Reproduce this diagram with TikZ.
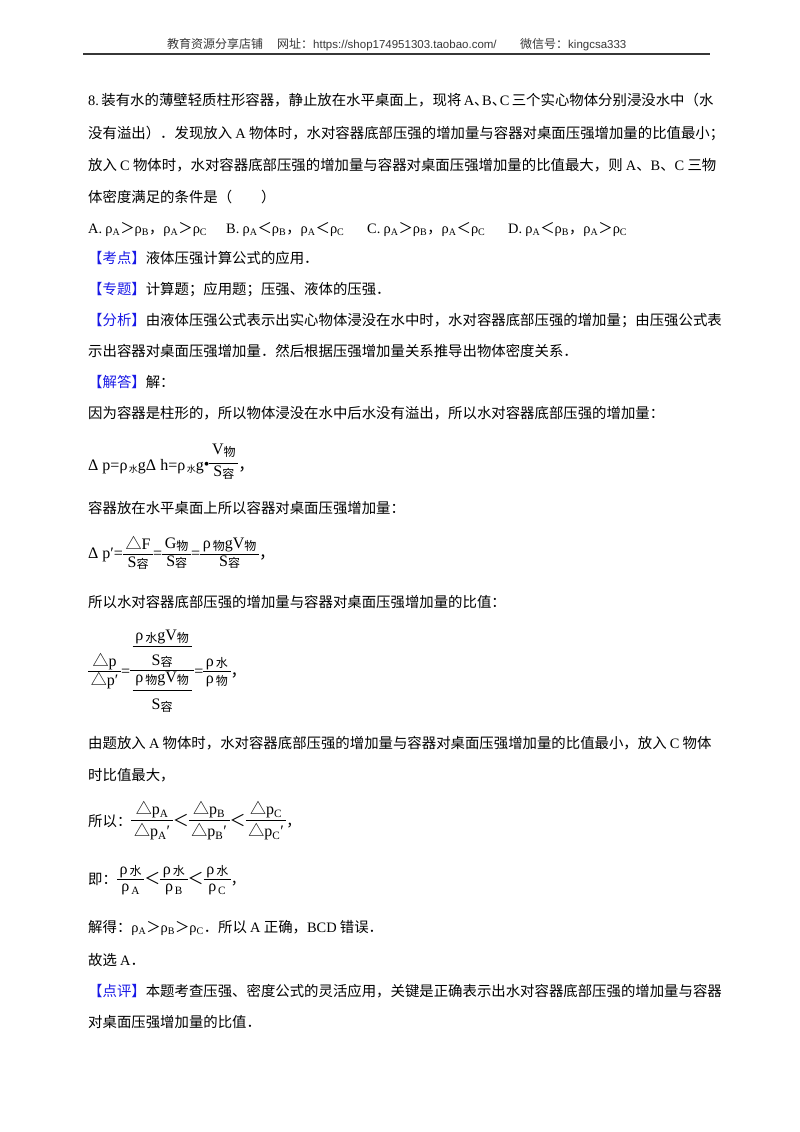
\documentclass[tikz,border=0pt]{standalone}
\usepackage{fontspec}
\setmainfont{Noto Sans CJK SC}
\newfontfamily\cjk{Noto Sans CJK SC}
\newfontfamily\lat{Liberation Serif}
\newfontfamily\hsans{Liberation Sans}
\usepackage{xcolor}
\definecolor{hdr}{RGB}{55,55,55}
\definecolor{tagblue}{RGB}{25,25,230}
\setlength\arrayrulewidth{0.8pt}
\newcommand\tm[1]{{\lat #1}}
\newcommand\rsub[1]{{\lat ρ\textsubscript{#1}}}
\newcommand\csub[2][12]{\raisebox{-1.5pt}{\fontsize{#1}{#1}\selectfont\cjk #2}}
\newcommand\fr[2]{\begin{tabular}[c]{@{\,}c@{\,}}#1\\\hline #2\end{tabular}}
\newcommand\frq[4]{\begin{tabular}[c]{@{\,}c@{\,}}\raisebox{0pt}[\height][\dimexpr\depth+#3\relax]{#1}\\\hline\raisebox{0pt}[\dimexpr\height+#4\relax][\depth]{#2}\end{tabular}}
\newcommand\hcomma{\hbox to 8pt{、\hss}}
\newcommand\tagb[1]{\textcolor{tagblue}{【#1】}}
\begin{document}
\begin{tikzpicture}[x=1pt,y=-1pt,
  txt/.style={anchor=base west,inner sep=0pt,font=\fontsize{14.4}{17.28}\selectfont},
  fm/.style={anchor=base west,inner sep=0pt,font=\fontsize{16}{17}\selectfont},
  hd/.style={anchor=base west,inner sep=0pt,font=\fontsize{12}{14}\selectfont,text=hdr},
  rulestyle/.style={draw=hdr,line width=1.3pt}]
\path[use as bounding box, fill=white] (0,0) rectangle (800,1132);
% header
\node[hd] (h1) at (167,48.5) {教育资源分享店铺};
\node[hd] (h2) at (277,48.5) {网址：{\hsans\fontsize{11.5}{14}\selectfont https://shop174951303.taobao.com/}};
\node[hd] (h3) at (520,48.5) {微信号：{\hsans\fontsize{11.5}{14}\selectfont kingcsa333}};
\coordinate (r1) at (83,54);
\coordinate (r2) at (710,54);
\draw[rulestyle] (r1) -- (r2);
% question
\node[txt] (l1) at (88,105.5) {\tm{8.}\,装有水的薄壁轻质柱形容器，静止放在水平桌面上，现将\,\tm{A}\hcomma\tm{B}\hcomma\tm{C}\,三个实心物体分别浸没水中（水};
\node[txt] (l2) at (88,138.5) {没有溢出）．发现放入 \tm{A} 物体时，水对容器底部压强的增加量与容器对桌面压强增加量的比值最小；};
\node[txt] (l3) at (88,170.5) {放入 \tm{C} 物体时，水对容器底部压强的增加量与容器对桌面压强增加量的比值最大，则 \tm{A}、\tm{B}、\tm{C} 三物};
\node[txt] (l4) at (88,202.5) {体密度满足的条件是（\hspace{2em}）};
\node[txt] (oa) at (88,233.5) {\tm{A.} \rsub{A}＞\rsub{B}，\rsub{A}＞\rsub{C}};
\node[txt] (ob) at (226,233.5) {\tm{B.} \rsub{A}＜\rsub{B}，\rsub{A}＜\rsub{C}};
\node[txt] (oc) at (367,233.5) {\tm{C.} \rsub{A}＞\rsub{B}，\rsub{A}＜\rsub{C}};
\node[txt] (od) at (508,233.5) {\tm{D.} \rsub{A}＜\rsub{B}，\rsub{A}＞\rsub{C}};
% analysis
\node[txt] (k1) at (88,263.5) {\tagb{考点}液体压强计算公式的应用．};
\node[txt] (k2) at (88,294.5) {\tagb{专题}计算题；应用题；压强、液体的压强．};
\node[txt] (k3) at (88,325.5) {\tagb{分析}由液体压强公式表示出实心物体浸没在水中时，水对容器底部压强的增加量；由压强公式表};
\node[txt] (k4) at (88,356.5) {示出容器对桌面压强增加量．然后根据压强增加量关系推导出物体密度关系．};
\node[txt] (k5) at (88,387.5) {\tagb{解答}解：};
\node[txt] (k6) at (88,418.5) {因为容器是柱形的，所以物体浸没在水中后水没有溢出，所以水对容器底部压强的增加量：};
\node[fm] (f1) at (88,470.5) {{\lat Δ p=ρ}\csub[9]{\,水}{\lat gΔ h=ρ}\csub[9]{\,水}{\lat g}\raisebox{1pt}{\lat •}\raisebox{4pt}{\frq{{\lat V}\csub{物}}{{\lat S}\csub{容}}{6pt}{2pt}}{\cjk ，}};
\node[txt] (k7) at (88,513.5) {容器放在水平桌面上所以容器对桌面压强增加量：};
\node[fm] (f2) at (88,558.5) {{\lat Δ p′=}\fr{{\cjk △}{\lat F}}{{\lat S}\csub{容}}{\lat =}\fr{{\lat G}\csub{物}}{{\lat S}\csub{容}}{\lat =}\fr{{\lat ρ}\csub{\,物}{\lat gV}\csub{物}}{{\lat S}\csub{容}}{\cjk ，}};
\node[txt] (k8) at (88,607.5) {所以水对容器底部压强的增加量与容器对桌面压强增加量的比值：};
\node[fm] (f3) at (88,676) {\fr{{\cjk △}{\lat p}}{{\cjk △}{\lat p′}}{\lat =}\frq{\frq{{\lat ρ}\csub{\,水}{\lat gV}\csub{物}}{{\lat S}\csub{容}}{0pt}{8pt}}{\frq{{\lat ρ}\csub{\,物}{\lat gV}\csub{物}}{{\lat S}\csub{容}}{4pt}{8pt}}{0pt}{0pt}{\lat =}\fr{{\lat ρ}\csub{\,水}}{{\lat ρ}\csub{\,物}}{\cjk ，}};
\node[txt] (k9) at (88,748.5) {由题放入 \tm{A} 物体时，水对容器底部压强的增加量与容器对桌面压强增加量的比值最小，放入 \tm{C} 物体};
\node[txt] (k10) at (88,780.5) {时比值最大，};
\node[txt] (k11) at (88,826) {所以：{\fontsize{16}{17}\selectfont\frq{{\cjk △}{\lat p\textsubscript{A}}}{{\cjk △}{\lat p\textsubscript{A}′}}{0pt}{3pt}＜\frq{{\cjk △}{\lat p\textsubscript{B}}}{{\cjk △}{\lat p\textsubscript{B}′}}{0pt}{3pt}＜\frq{{\cjk △}{\lat p\textsubscript{C}}}{{\cjk △}{\lat p\textsubscript{C}′}}{0pt}{3pt}}，};
\node[txt] (k12) at (88,884) {即：{\fontsize{16}{17}\selectfont\frq{{\lat ρ}\csub{\,水}}{{\lat ρ\textsubscript{\,A}}}{0pt}{4pt}＜\frq{{\lat ρ}\csub{\,水}}{{\lat ρ\textsubscript{\,B}}}{0pt}{4pt}＜\frq{{\lat ρ}\csub{\,水}}{{\lat ρ\textsubscript{\,C}}}{0pt}{4pt}}，};
\node[txt] (k13) at (88,932.5) {解得：\rsub{A}＞\rsub{B}＞\rsub{C}．所以 \tm{A} 正确，\tm{BCD} 错误．};
\node[txt] (k14) at (88,965.5) {故选 \tm{A}．};
\node[txt] (k15) at (88,996.5) {\tagb{点评}本题考查压强、密度公式的灵活应用，关键是正确表示出水对容器底部压强的增加量与容器};
\node[txt] (k16) at (88,1027.5) {对桌面压强增加量的比值．};
\end{tikzpicture}
\end{document}
